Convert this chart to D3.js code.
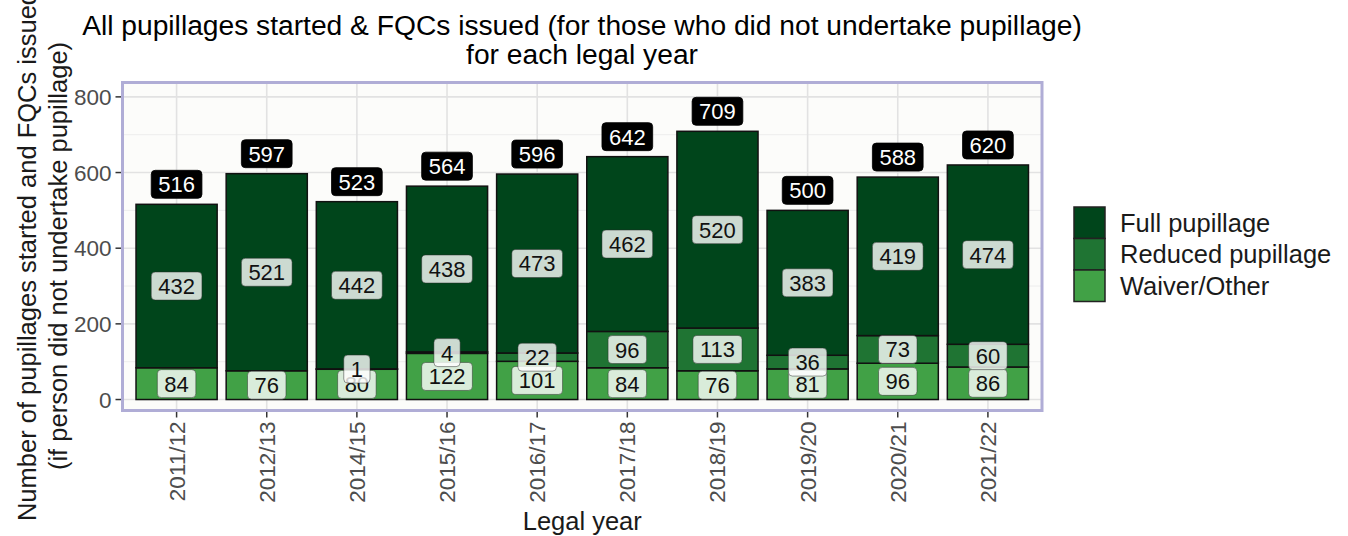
<!DOCTYPE html>
<html>
<head>
<meta charset="utf-8">
<script src="https://cdn.jsdelivr.net/npm/d3@7"></script>
<style>
  body { margin: 0; background: #ffffff; }
  svg { font-family: "Liberation Sans", Arial, sans-serif; }
  .tick-label { fill: #4d4d4d; font-size: 22.5px; }
  .axis-title { fill: #1a1a1a; font-size: 25.5px; }
</style>
</head>
<body>
<div id="chart"></div>
<script>
'use strict'

// Legal years on the x axis
var years = ["2011/12", "2012/13", "2014/15", "2015/16", "2016/17", "2017/18", "2018/19", "2019/20", "2020/21", "2021/22"]

// Counts per pupillage type (null = no bar segment / no label)
var waiverOther      = [84, 76, 80, 122, 101, 84, 76, 81, 96, 86]
var reducedPupillage = [null, null, 1, 4, 22, 96, 113, 36, 73, 60]
var fullPupillage    = [432, 521, 442, 438, 473, 462, 520, 383, 419, 474]
var totals           = [516, 597, 523, 564, 596, 642, 709, 500, 588, 620]

var seriesNames = ["Full pupillage", "Reduced pupillage", "Waiver/Other"]
var colors = ["#00451b", "#1f7433", "#41a146"]

var yTicks = [0, 200, 400, 600, 800]
var yMinorTicks = [100, 300, 500, 700]

var width = 1348
var height = 536
var panel = {left: 122.5, right: 1042, top: 82.5, bottom: 410.5}

var svg = d3.select("#chart")
            .append("svg")
            .attr("width", width)
            .attr("height", height)

// scales
var xScale = d3.scaleBand()
               .domain(years)
               .range([panel.left, panel.right])
               .paddingInner(0.1)
               .paddingOuter(0.15)
               .align(0.5)

var yScale = d3.scaleLinear()
               .domain([-29, 838])
               .range([panel.bottom, panel.top])

var xCenter = (d) => xScale(d) + xScale.bandwidth() / 2

// table for the stack
var table = years.map((y, i) => ({
    year: y,
    "Waiver/Other": waiverOther[i],
    "Reduced pupillage": reducedPupillage[i] || 0,
    "Full pupillage": fullPupillage[i],
    total: totals[i],
    raw: {"Waiver/Other": waiverOther[i], "Reduced pupillage": reducedPupillage[i], "Full pupillage": fullPupillage[i]}
}))

var stackKeys = ["Waiver/Other", "Reduced pupillage", "Full pupillage"]
var stacked = d3.stack().keys(stackKeys)(table)
var colorOf = d3.scaleOrdinal().domain(seriesNames).range(colors)

// panel background
svg.append("rect")
   .attr("x", panel.left)
   .attr("y", panel.top)
   .attr("width", panel.right - panel.left)
   .attr("height", panel.bottom - panel.top)
   .attr("fill", "#fcfcfa")

// grid lines
svg.selectAll(".minor-grid")
   .data(yMinorTicks)
   .enter()
   .append("line")
   .attr("x1", panel.left).attr("x2", panel.right)
   .attr("y1", (d) => yScale(d)).attr("y2", (d) => yScale(d))
   .attr("stroke", "#ededed")
   .attr("stroke-width", 1)

svg.selectAll(".major-grid")
   .data(yTicks)
   .enter()
   .append("line")
   .attr("x1", panel.left).attr("x2", panel.right)
   .attr("y1", (d) => yScale(d)).attr("y2", (d) => yScale(d))
   .attr("stroke", "#e2e2e2")
   .attr("stroke-width", 1.6)

svg.selectAll(".x-grid")
   .data(years)
   .enter()
   .append("line")
   .attr("x1", xCenter).attr("x2", xCenter)
   .attr("y1", panel.top).attr("y2", panel.bottom)
   .attr("stroke", "#e2e2e2")
   .attr("stroke-width", 1.6)

// bars
svg.selectAll(".layer")
   .data(stacked)
   .enter()
   .append("g")
   .attr("fill", (d) => colorOf(d.key))
   .selectAll("rect")
   .data((d) => d.filter((s) => s[1] - s[0] > 0))
   .enter()
   .append("rect")
   .attr("x", (d) => xScale(d.data.year))
   .attr("width", xScale.bandwidth())
   .attr("y", (d) => yScale(d[1]))
   .attr("height", (d) => yScale(d[0]) - yScale(d[1]))
   .attr("stroke", "#111")
   .attr("stroke-width", 1.5)

// helper for a rounded label box
function addLabel(g, x, y, text, fill, textColor, stroke) {
    var lg = g.append("g")
    var box = lg.append("rect")
    var t = lg.append("text")
              .attr("x", x)
              .attr("y", y)
              .attr("dy", "0.36em")
              .attr("text-anchor", "middle")
              .attr("fill", textColor)
              .style("font-size", "22px")
              .text(text)
    var w = t.node().getComputedTextLength()
    var padX = 7, h = 28
    box.attr("x", x - w / 2 - padX)
       .attr("y", y - h / 2)
       .attr("width", w + 2 * padX)
       .attr("height", h)
       .attr("rx", 4)
       .attr("ry", 4)
       .attr("fill", fill)
       .attr("stroke", stroke)
       .attr("stroke-width", 0.8)
}

// segment labels
var labelLayer = svg.append("g")
stacked.forEach(function(layer) {
    layer.forEach(function(s) {
        var v = s.data.raw[layer.key]
        if (v == null) return
        addLabel(labelLayer, xCenter(s.data.year), yScale((s[0] + s[1]) / 2), v,
                 "rgba(255,255,255,0.8)", "#111", "rgba(40,40,40,0.6)")
    })
})

// total labels above the bars
table.forEach(function(d) {
    addLabel(labelLayer, xCenter(d.year), yScale(d.total) - 20, d.total, "#000", "#fff", "#000")
})

// panel border
svg.append("rect")
   .attr("x", panel.left)
   .attr("y", panel.top)
   .attr("width", panel.right - panel.left)
   .attr("height", panel.bottom - panel.top)
   .attr("fill", "none")
   .attr("stroke", "#b0add6")
   .attr("stroke-width", 3)

// y axis ticks
svg.selectAll(".y-tick")
   .data(yTicks)
   .enter()
   .append("line")
   .attr("x1", panel.left - 7).attr("x2", panel.left - 1.5)
   .attr("y1", (d) => yScale(d)).attr("y2", (d) => yScale(d))
   .attr("stroke", "#333")
   .attr("stroke-width", 1.5)

svg.selectAll(".y-label")
   .data(yTicks)
   .enter()
   .append("text")
   .attr("class", "tick-label")
   .attr("x", panel.left - 11)
   .attr("y", (d) => yScale(d))
   .attr("dy", "0.36em")
   .attr("text-anchor", "end")
   .text((d) => d)

// x axis ticks
svg.selectAll(".x-tick")
   .data(years)
   .enter()
   .append("line")
   .attr("x1", xCenter).attr("x2", xCenter)
   .attr("y1", panel.bottom + 1.5).attr("y2", panel.bottom + 7)
   .attr("stroke", "#333")
   .attr("stroke-width", 1.5)

svg.selectAll(".x-label")
   .data(years)
   .enter()
   .append("text")
   .attr("class", "tick-label")
   .attr("transform", (d) => "translate(" + (xCenter(d) + 8) + "," + (panel.bottom + 11) + ") rotate(-90)")
   .attr("text-anchor", "end")
   .text((d) => d)

// axis titles
svg.append("text")
   .attr("class", "axis-title")
   .attr("x", (panel.left + panel.right) / 2)
   .attr("y", 530)
   .attr("text-anchor", "middle")
   .text("Legal year")

var yTitle = svg.append("text")
   .attr("class", "axis-title")
   .attr("transform", "translate(36,256) rotate(-90)")
   .attr("text-anchor", "middle")
yTitle.append("tspan").attr("x", 0).attr("y", 0).text("Number of pupillages started and FQCs issued")
yTitle.append("tspan").attr("x", 0).attr("y", 31).text("(if person did not undertake pupillage)")

// title
var title = svg.append("text")
   .attr("text-anchor", "middle")
   .attr("fill", "#000")
   .style("font-size", "28.2px")
title.append("tspan").attr("x", 582).attr("y", 35)
     .text("All pupillages started & FQCs issued (for those who did not undertake pupillage)")
title.append("tspan").attr("x", 582).attr("y", 64)
     .text("for each legal year")

// legend
var legend = svg.append("g")
var keyTop = 207, keySize = 31.5
legend.selectAll("rect")
      .data(seriesNames)
      .enter()
      .append("rect")
      .attr("x", 1074)
      .attr("y", (d, i) => keyTop + i * keySize)
      .attr("width", 31)
      .attr("height", keySize)
      .attr("fill", (d) => colorOf(d))
      .attr("stroke", "#222")
      .attr("stroke-width", 1.5)

legend.selectAll("text")
      .data(seriesNames)
      .enter()
      .append("text")
      .attr("class", "axis-title")
      .attr("x", 1120)
      .attr("y", (d, i) => keyTop + i * keySize + keySize / 2)
      .attr("dy", "0.36em")
      .text((d) => d)
</script>
</body>
</html>
